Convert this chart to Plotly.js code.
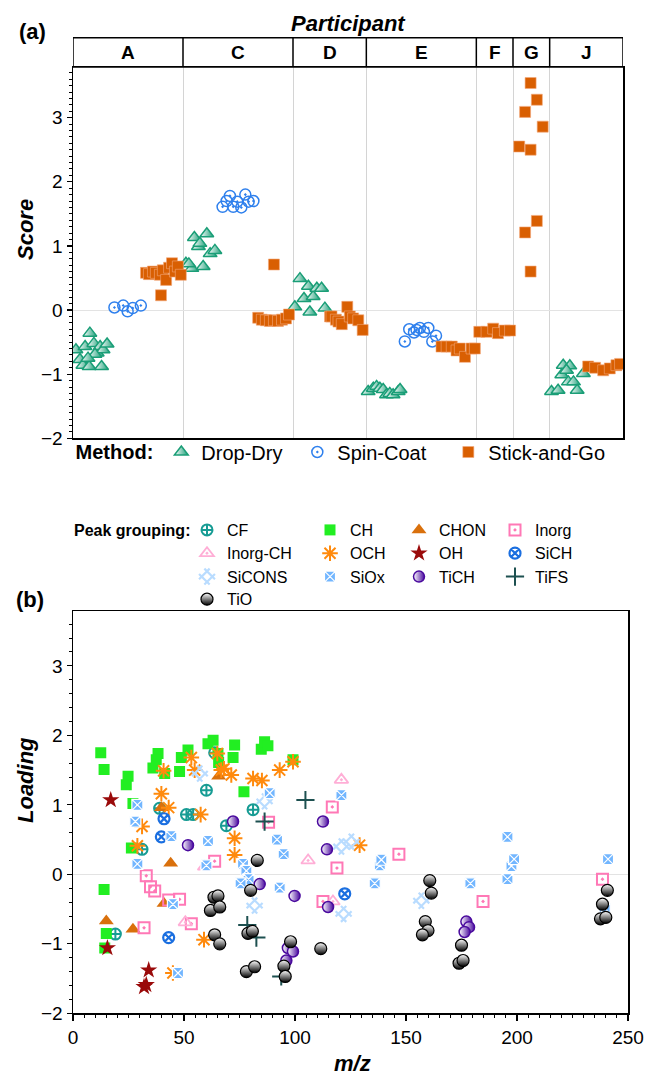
<!DOCTYPE html>
<html><head><meta charset="utf-8">
<script src="https://cdn.plot.ly/plotly-3.0.1.min.js"></script>
<style>html,body{margin:0;padding:0;background:#fff}#chart{width:647px;height:1075px}</style>
</head><body><div id="chart"></div>
<script>
// ---------- Panel (a): scores by participant ----------
const participants = ['A','C','D','E','F','G','J'];
const participantSpan = [3,3,2,3,1,1,2];
const methods = ['Drop-Dry','Spin-Coat','Stick-and-Go'];

// x = sample position along participant strip, y = score
const dropDryX = [0.08,0.19,0.33,0.46,0.57,0.66,0.74,0.82,0.93,0.27,0.44,0.78,0.60,0.41,
  3.08,3.24,3.55,3.31,3.65,3.42,3.46,3.74,3.87,3.16,
  6.19,6.42,6.30,6.05,6.46,6.55,6.65,6.78,6.87,
  8.05,8.19,8.28,8.37,8.46,8.55,8.64,8.73,8.87,8.92,
  13.05,13.23,13.37,13.55,13.33,13.51,13.65,13.75,13.92,13.46];
const dropDryY = [-0.62,-0.77,-0.57,-0.36,-0.52,-0.67,-0.57,-0.62,-0.53,-0.86,-0.88,-0.88,-0.69,-0.75,
  0.73,0.65,0.68,1.13,1.19,0.99,1.04,0.88,0.93,0.72,
  0.49,0.37,0.18,0.05,-0.03,0.21,0.34,0.34,0.03,
  -1.27,-1.22,-1.19,-1.22,-1.24,-1.32,-1.30,-1.32,-1.27,-1.24,
  -1.27,-1.25,-0.86,-0.87,-1.01,-1.12,-1.12,-1.25,-0.99,-0.94];
const spinCoatX = [1.13,1.37,1.49,1.63,1.85,
  4.08,4.28,4.19,4.37,4.48,4.59,4.70,4.79,4.92,
  9.05,9.17,9.30,9.37,9.46,9.57,9.69,9.80,9.90];
const spinCoatY = [0.04,0.07,-0.02,0.03,0.07,
  1.61,1.78,1.70,1.61,1.69,1.60,1.80,1.69,1.70,
  -0.49,-0.30,-0.35,-0.31,-0.28,-0.34,-0.28,-0.49,-0.40];
const stickGoX = [1.99,2.07,2.18,2.26,2.37,2.45,2.54,2.62,2.70,2.78,2.86,2.94,2.40,
  5.05,5.15,5.26,5.37,5.48,5.59,5.70,5.81,5.89,5.48,
  7.01,7.05,7.17,7.24,7.33,7.48,7.55,7.64,7.78,7.90,
  10.05,10.19,10.33,10.46,10.55,10.69,10.87,10.96,
  11.08,11.28,11.46,11.59,11.78,11.92,
  12.48,12.65,12.33,12.81,12.17,12.48,12.65,12.33,12.48,
  14.05,14.24,14.46,14.64,14.82,14.92];
const stickGoY = [0.58,0.56,0.60,0.58,0.55,0.62,0.47,0.66,0.73,0.60,0.68,0.55,0.23,
  -0.12,-0.15,-0.16,-0.17,-0.16,-0.17,-0.15,-0.13,-0.07,0.71,
  -0.10,-0.10,-0.15,-0.18,-0.22,0.05,-0.10,-0.13,-0.16,-0.31,
  -0.57,-0.57,-0.57,-0.63,-0.60,-0.73,-0.60,-0.60,
  -0.34,-0.34,-0.29,-0.36,-0.32,-0.32,
  3.54,3.28,3.09,2.86,2.55,2.50,1.39,1.21,0.60,
  -0.88,-0.90,-0.94,-0.91,-0.86,-0.84];

// ---------- Panel (b): loadings vs m/z ----------
const groups = ['CF','CH','CHON','Inorg','Inorg-CH','OCH','OH','SiCH','SiCONS','SiOx','TiCH','TiFS','TiO'];
const cfMz = [63.8,60.1,39.0,51.1,54.1,81.1,69.1,31.1,19.1];
const cfL  = [1.75,1.21,0.95,0.86,0.86,0.93,0.70,0.36,-0.86];
const chMz = [12.5,14.0,24.8,24.0,27.0,38.3,37.5,36.0,41.3,48.0,48.8,51.8,60.8,63.1,65.3,65.6,72.8,72.1,77.0,84.8,86.3,87.8,99.1,14.0,15.0,14.3,26.3];
const chL  = [1.75,1.51,1.41,1.29,1.02,1.74,1.65,1.53,1.45,1.48,1.68,1.79,1.88,1.93,1.74,1.61,1.86,1.68,1.19,1.80,1.91,1.85,1.65,-0.22,-0.85,-1.06,0.38];
const chonMz = [65.6,39.8,44.0,15.0,27.0,41.0];
const chonL  = [1.41,0.96,0.16,-0.67,-0.79,-0.42];
const inorgMz = [33.0,34.9,36.8,43.1,48.0,53.3,32.0,63.8,88.1,118.9,112.6,146.8,184.7,238.5,116.8];
const inorgL  = [-0.02,-0.18,-0.24,-0.37,-0.36,-0.71,-0.77,0.19,0.75,0.09,-0.39,0.29,-0.39,-0.07,0.97];
const inorgChMz = [105.9,59.3,50.6,120.9,117.1];
const inorgChL  = [0.20,0.11,-0.69,1.36,-0.39];
const ochMz = [40.8,53.3,54.8,65.0,66.8,68.0,71.3,81.1,85.1,93.1,99.1,39.8,43.1,57.5,31.1,29.0,72.8,72.8,59.0,45.0,129.1];
const ochL  = [1.49,1.68,1.50,1.74,1.50,1.52,1.43,1.38,1.35,1.50,1.62,1.16,0.96,0.86,0.69,0.41,0.52,0.28,-0.94,-1.42,0.42];
const ohMz = [17.0,15.5,34.1,32.0,33.0];
const ohL  = [1.07,-1.06,-1.38,-1.62,-1.59];
const sichMz = [41.0,39.8,43.1,122.4];
const sichL  = [0.80,0.54,-0.91,-0.28];
const siconsMz = [57.1,86.3,81.8,120.9,125.4,121.9,156.9];
const siconsL  = [1.45,1.05,-0.45,0.40,0.47,-0.57,-0.38];
const sioxMz = [29.0,28.1,44.3,60.8,29.0,60.1,76.6,78.1,79.1,75.5,45.0,47.3,88.6,91.9,94.9,93.1,135.9,138.2,138.9,120.9,179.0,195.7,197.5,198.7,241.0,239.5,195.7];
const sioxL  = [1.00,0.76,0.55,0.48,0.15,0.13,0.15,0.05,-0.07,-0.13,-0.43,-1.42,1.17,0.50,0.29,-0.19,-0.13,0.13,0.21,1.14,-0.13,-0.07,0.12,0.22,0.22,-0.49,0.54];
const tichMz = [51.8,72.1,84.1,99.8,96.8,99.1,96.1,114.4,114.9,112.6,177.2,178.4,176.4];
const tichL  = [0.42,0.76,-0.14,-0.31,-1.06,-1.11,-1.24,0.36,-0.47,0.76,-0.68,-0.76,-0.83];
const tifsMz = [104.7,86.3,78.5,82.6,93.8];
const tifsL  = [1.07,0.76,-0.73,-0.91,-1.47];
const tioMz = [83.0,80.0,63.5,65.3,61.9,66.1,63.8,66.1,78.8,80.8,98.0,78.1,81.8,95.0,95.6,111.6,160.7,161.4,158.7,159.9,157.4,175.0,173.9,175.7,240.7,238.5,237.6,240.0];
const tioL  = [0.20,-0.23,-0.33,-0.31,-0.52,-0.47,-0.87,-1.00,-0.85,-0.82,-0.97,-1.40,-1.33,-1.32,-1.47,-1.07,-0.09,-0.27,-0.68,-0.81,-0.87,-1.02,-1.28,-1.24,-0.23,-0.43,-0.64,-0.62];

const FONT = 'Liberation Sans, Arial, sans-serif';
const H = 1075, L0 = 73, GW = 555;
const py = p => 1 - p / H;          // pixel row -> paper fraction
const px = p => (p - L0) / GW;      // pixel column -> paper fraction

// participant boundaries / centres derived from spans
const bounds = []; const centres = [];
let acc = 0;
participantSpan.forEach(s => { centres.push(acc + s/2); acc += s; bounds.push(acc); });
const totalSpan = acc;

const traces = [];
const topStyles = [
  {symbol:'triangle-up', size:12, color:'#ffffff', gradient:{type:'horizontal', color:'#1a9e77'}, line:{color:'#1a9e77', width:1.5}},
  {symbol:'circle-open-dot', size:11, color:'#2f80ed', line:{color:'#2f80ed', width:1.5}},
  {symbol:'square', size:11, color:'#d95f02', line:{color:'#f3a77a', width:0.6}}
];
const topLegendWidth = [91, 106, 125];
[[dropDryX,dropDryY],[spinCoatX,spinCoatY],[stickGoX,stickGoY]].forEach((d,i) => {
  traces.push({type:'scatter', mode:'markers', x:d[0], y:d[1], name:methods[i],
    xaxis:'x', yaxis:'y', legend:'legend', legendwidth:topLegendWidth[i], marker:topStyles[i], hoverinfo:'skip'});
});

const botData = [[cfMz,cfL],[chMz,chL],[chonMz,chonL],[inorgMz,inorgL],[inorgChMz,inorgChL],[ochMz,ochL],
  [ohMz,ohL],[sichMz,sichL],[siconsMz,siconsL],[sioxMz,sioxL],[tichMz,tichL],[tifsMz,tifsL],[tioMz,tioL]];
const botStyles = [
  {symbol:'circle-cross-open', size:11, color:'#179c94', line:{color:'#179c94', width:2}},
  {symbol:'square', size:11, color:'#22ee22', line:{width:0}},
  {symbol:'triangle-up', size:13, color:'#d9700c', line:{width:0}},
  {symbol:'square-open-dot', size:11, color:'#ff78b6', line:{color:'#ff78b6', width:2}},
  {symbol:'triangle-up-open-dot', size:12, color:'#ffaed6', line:{color:'#ffaed6', width:1.8}},
  {symbol:'asterisk-open', size:13, color:'#ff8a0d', line:{color:'#ff8a0d', width:2}},
  {symbol:'star', size:13, color:'#9a0a0a', line:{width:0}},
  {symbol:'circle-x-open', size:11, color:'#1b6fe0', line:{color:'#1b6fe0', width:2.2}},
  {symbol:'hash-open', size:15, angle:45, color:'#b9dcff', line:{color:'#b9dcff', width:2.2}},
  {symbol:'square-x', size:11, color:'#72b6ff', line:{color:'#ffffff', width:1.2}},
  {symbol:'circle', size:11, color:'#ffffff', gradient:{type:'horizontal', color:'#4a0a9e'}, line:{color:'#4a0a9e', width:1.5}},
  {symbol:'cross-thin-open', size:13, color:'#1d5050', line:{color:'#1d5050', width:2}},
  {symbol:'circle', size:12, color:'#ffffff', gradient:{type:'vertical', color:'#000000'}, line:{color:'#000000', width:1.2}}
];
// legend grid: 4 columns, one legend per row
const colWidth = [78, 44, 51, 50];
const rowY = [530, 553.3, 576.7, 599.3];
botData.forEach((d,i) => {
  traces.push({type:'scatter', mode:'markers', x:d[0], y:d[1], name:groups[i],
    xaxis:'x2', yaxis:'y2', legend:'legend' + (2 + Math.floor(i/4)), legendwidth:colWidth[i%4],
    marker:botStyles[i], hoverinfo:'skip'});
});

const shapes = [];
const annotations = [];
const headerTop = py(37.7), headerBot = py(67);
shapes.push({type:'rect', xref:'x', yref:'paper', x0:0, x1:totalSpan, y0:headerBot, y1:headerTop,
  line:{color:'#000', width:1.5}, fillcolor:'rgba(0,0,0,0)'});
bounds.slice(0,-1).forEach(b => shapes.push({type:'line', xref:'x', yref:'paper', x0:b, x1:b, y0:headerBot, y1:headerTop,
  line:{color:'#000', width:1.5}}));
participants.forEach((p,i) => annotations.push({xref:'x', yref:'paper', x:centres[i], y:py(52.5), text:'<b>'+p+'</b>',
  showarrow:false, font:{size:19, family:FONT, color:'#000'}, xanchor:'center', yanchor:'middle'}));

const txt = (text, x, y, size, angle, xanchor) => ({xref:'paper', yref:'paper', x:x, y:y, text:text, showarrow:false,
  textangle:angle||0, font:{size:size, family:FONT, color:'#000'}, xanchor:xanchor||'center', yanchor:'middle'});
annotations.push(txt('<b><i>Participant</i></b>', 0.497, py(24), 22));
annotations.push(txt('<b>(a)</b>', px(32), py(31), 22));
annotations.push(txt('<b>(b)</b>', px(30), py(599), 22));
annotations.push(txt('<b><i>Score</i></b>', px(25), py(230), 22, -90));
annotations.push(txt('<b><i>Loading</i></b>', px(25), py(780), 22, -90));
annotations.push(txt('<b><i>m/z</i></b>', px(352), py(1063), 22));
annotations.push(txt('<b>Peak grouping:</b>', px(72), py(530), 16, 0, 'left'));

const axCommon = {showline:true, mirror:true, linecolor:'#000', linewidth:1.5, tickfont:{size:19, family:FONT, color:'#000'}};

const rowLegend = y => ({orientation:'h', x:px(187), xanchor:'left', y:py(y), yanchor:'middle',
  font:{size:16, family:FONT}, entrywidthmode:'pixels', bgcolor:'rgba(0,0,0,0)', tracegroupgap:0});

const layout = {
  width:647, height:1075,
  margin:{l:L0, r:647 - L0 - GW, t:0, b:0, autoexpand:false},
  paper_bgcolor:'#fff', plot_bgcolor:'#fff',
  font:{family:FONT, color:'#000'},
  showlegend:true,
  xaxis: Object.assign({}, axCommon, {domain:[0, 550/555], range:[0,totalSpan], tickvals:bounds.slice(0,-1),
    showticklabels:false, ticks:'', showgrid:true, gridcolor:'#d4d4d4', gridwidth:1, zeroline:false, anchor:'y'}),
  yaxis: Object.assign({}, axCommon, {domain:[py(438.3), py(67)], range:[-2,3.79], tick0:0, dtick:1, ticks:'outside',
    ticklen:5, tickwidth:1.2, tickcolor:'#000', showgrid:false, zeroline:true, zerolinecolor:'#e3e3e3', zerolinewidth:1,
    minor:{dtick:0.1, ticks:'outside', ticklen:3, tickwidth:1, tickcolor:'#000', showgrid:false}, anchor:'x'}),
  xaxis2: Object.assign({}, axCommon, {domain:[0,1], range:[0,250], tick0:0, dtick:50, ticks:'outside', ticklen:6,
    tickwidth:1.2, tickcolor:'#000', showgrid:false, zeroline:false,
    minor:{dtick:5, ticks:'outside', ticklen:3, tickwidth:1, tickcolor:'#000', showgrid:false}, anchor:'y2'}),
  yaxis2: Object.assign({}, axCommon, {domain:[py(1013.3), py(611)], range:[-2,3.79], tick0:0, dtick:1, ticks:'outside',
    ticklen:5, tickwidth:1.2, tickcolor:'#000', showgrid:false, zeroline:true, zerolinecolor:'#e3e3e3', zerolinewidth:1,
    minor:{dtick:0.2, ticks:'outside', ticklen:3, tickwidth:1, tickcolor:'#000', showgrid:false}, anchor:'x2'}),
  legend:{orientation:'h', x:0.001, xanchor:'left', y:py(452), yanchor:'middle',
    title:{text:'<b>Method:</b>', side:'left', font:{size:20, family:FONT}}, font:{size:20, family:FONT},
    entrywidthmode:'pixels', bgcolor:'rgba(0,0,0,0)', tracegroupgap:0},
  legend2: rowLegend(rowY[0]),
  legend3: rowLegend(rowY[1]),
  legend4: rowLegend(rowY[2]),
  legend5: rowLegend(rowY[3]),
  shapes:shapes, annotations:annotations
};

Plotly.newPlot('chart', traces, layout, {displayModeBar:false, staticPlot:true});
</script>
</body></html>
